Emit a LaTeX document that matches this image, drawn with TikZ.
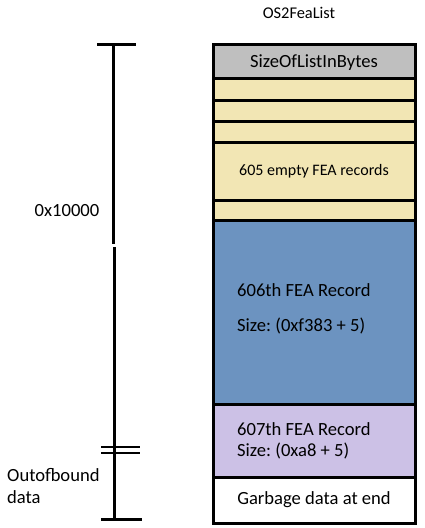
\documentclass[tikz,border=0pt]{standalone}
\usepackage{fontspec}
\setmainfont{Carlito}
\frenchspacing
\definecolor{hdrgray}{RGB}{191,191,191}
\definecolor{tan}{RGB}{242,230,180}
\definecolor{recblue}{RGB}{108,147,192}
\definecolor{recpurple}{RGB}{204,193,230}
\begin{document}
\begin{tikzpicture}[x=1pt,y=-1pt,
  rec/.style={draw=black,line width=3pt,minimum width=202pt,inner sep=0pt,outer sep=0pt,anchor=north},
  lbl/.style={font=\fontsize{18.6}{22}\selectfont,inner sep=0pt},
  rule/.style={line width=3pt}]
\useasboundingbox (0,0) rectangle (424,528);
\node[rec,fill=recblue,minimum height=184pt] (blue) at (314,220) {};
\node[rec,fill=recpurple,minimum height=73pt] (purple) at (314,404) {};
\node[rec,fill=white,minimum height=46pt] (garb) at (314,477) {};
\node[rec,fill=tan,minimum height=20pt] (t5) at (314,200) {};
\node[rec,fill=tan,minimum height=58pt] (t4) at (314,142) {};
\node[rec,fill=tan,minimum height=21pt] (t3) at (314,121) {};
\node[rec,fill=tan,minimum height=21pt] (t2) at (314,100) {};
\node[rec,fill=tan,minimum height=22pt] (t1) at (314,78) {};
\node[rec,fill=hdrgray,minimum height=34pt] (hdr) at (314,44) {};
\node[lbl] (hdrtxt) at ([yshift=-2pt]hdr.center) {SizeOfListInBytes};
\node[lbl,font=\fontsize{16}{18}\selectfont] (emptytxt) at (t4.center) {605 empty FEA records};
\node[lbl,anchor=west] (b1) at (237,290) {606th FEA Record};
\node[lbl,anchor=west] (b2) at (237,326) {Size: (0xf383 + 5)};
\node[lbl,anchor=west] (p1) at (237,429) {607th FEA Record};
\node[lbl,anchor=west] (p2) at (237,451) {Size: (0xa8 + 5)};
\node[lbl] (gtxt) at (garb.center) {Garbage data at end};
\node[lbl,font=\fontsize{16.4}{20}\selectfont] (title) at (299,13) {OS2FeaList};
\node[lbl] (size) at (67,211) {0x10000};
\node[lbl,anchor=west] (oob1) at (7,475) {Outofbound};
\node[lbl,anchor=west] (oob2) at (7,497) {data};
% ruler
\coordinate (rtop) at (113,44);
\coordinate (rmid1) at (113,244);
\coordinate (rmid2) at (114,247);
\coordinate (rbot) at (114,519);
\coordinate (tl) at (97,44);
\coordinate (tr) at (136,44);
\coordinate (bl) at (101,519);
\coordinate (br) at (142,519);
\coordinate (d1l) at (101,447);
\coordinate (d1r) at (140,447);
\coordinate (d2l) at (101,453);
\coordinate (d2r) at (140,453);
\draw[rule] (tl) -- (tr);
\draw[rule] (rtop) -- (rmid1);
\draw[rule] (rmid2) -- (rbot);
\draw[rule] (bl) -- (br);
\draw[line width=2pt] (d1l) -- (d1r);
\draw[line width=2pt] (d2l) -- (d2r);
\end{tikzpicture}
\end{document}
